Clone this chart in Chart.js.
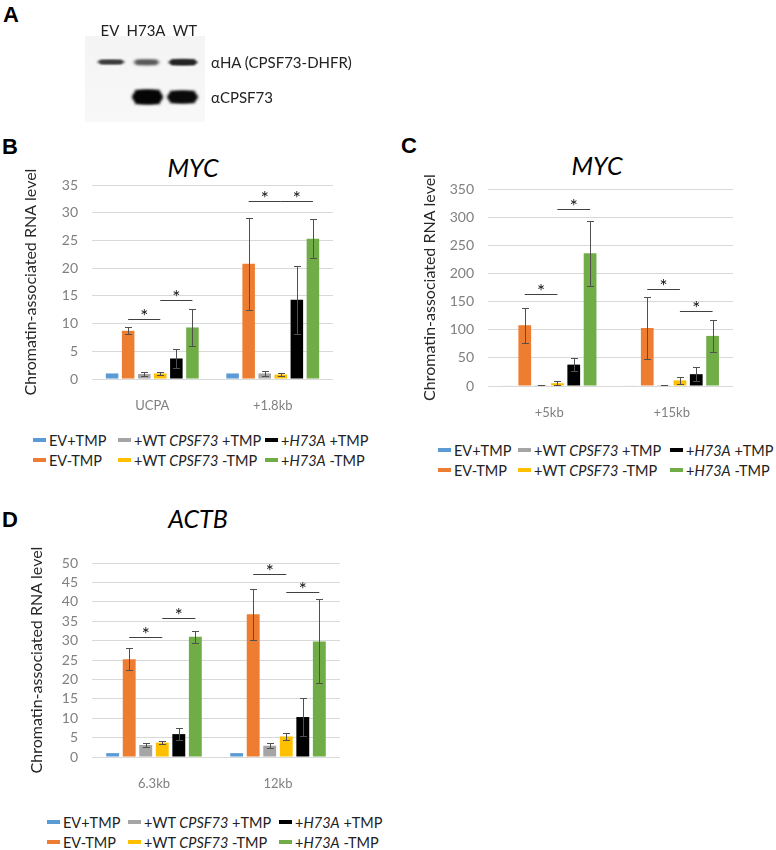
<!DOCTYPE html>
<html>
<head>
<meta charset="utf-8">
<script src="https://cdn.jsdelivr.net/npm/chart.js@4.4.0/dist/chart.umd.min.js"></script>
<style>
  body { margin: 0; width: 776px; height: 850px; position: relative; overflow: hidden; background: #fff; font-family: Lato, sans-serif; }
  canvas { position: absolute; }
  .panel { position: absolute; font-family: "Liberation Sans", Arial, sans-serif; font-weight: bold; font-size: 22px; line-height: 1; color: #000; }
  .title { position: absolute; font-style: italic; font-size: 25px; color: #000; transform: translate(-50%, -50%); white-space: nowrap; }
  .txt { position: absolute; font-size: 15px; color: #222; white-space: nowrap; transform: translateY(-50%); }
  .lane { position: absolute; font-size: 15px; color: #222; transform: translate(-50%, -50%); }
  .legend { position: absolute; display: grid; grid-auto-flow: column; grid-template-rows: 20px 20px; font-size: 14.5px; color: #222; white-space: nowrap; }
  .legend .item { display: flex; align-items: center; }
  .legend .name { white-space: pre; }
  .legend .mark { display: inline-block; width: 13px; height: 4px; margin-right: 3px; }
</style>
</head>
<body>

<div class="panel" style="left:3px;top:4px">A</div>
<div class="panel" style="left:2px;top:136px">B</div>
<div class="panel" style="left:401px;top:135px">C</div>
<div class="panel" style="left:2px;top:509px">D</div>

<canvas id="blot" width="120" height="86" style="left:85px;top:36px"></canvas>
<div class="lane" style="left:110px;top:30px">EV</div>
<div class="lane" style="left:146px;top:30px">H73A</div>
<div class="lane" style="left:185px;top:30px">WT</div>
<div class="txt" style="left:211px;top:62px">αHA (CPSF73-DHFR)</div>
<div class="txt" style="left:211px;top:97px">αCPSF73</div>

<div class="title" style="left:193px;top:167px">MYC</div>
<div class="title" style="left:597px;top:165px">MYC</div>
<div class="title" style="left:198px;top:518px">ACTB</div>

<canvas id="chartB"></canvas>
<canvas id="chartC"></canvas>
<canvas id="chartD"></canvas>

<div class="legend" id="legendB" style="left:33px;top:430px;grid-template-columns:85px 147px auto"></div>
<div class="legend" id="legendC" style="left:438px;top:440px;grid-template-columns:80px 152px auto"></div>
<div class="legend" id="legendD" style="left:47px;top:812px;grid-template-columns:81px 151px auto"></div>

<script>
const seriesNames = ['EV+TMP', 'EV-TMP', '+WT CPSF73 +TMP', '+WT CPSF73 -TMP', '+H73A +TMP', '+H73A -TMP']
const seriesColors = ['#5B9BD5', '#ED7D31', '#A5A5A5', '#FFC000', '#000000', '#70AD47']
const yTitle = 'Chromatin-associated RNA level'

// B: MYC near the gene end
const mycNearLabels = ['UCPA', '+1.8kb']
const mycNearMeans = [[1, 1], [8.7, 20.8], [0.9, 1.0], [1.0, 0.8], [3.7, 14.3], [9.3, 25.3]]
const mycNearErrors = [[0, 0], [0.6, 8.3], [0.3, 0.4], [0.3, 0.3], [1.8, 6.1], [3.3, 3.5]]
// [category, from series, to series, height]
const mycNearStars = [[0, 1, 3, 10.9], [0, 3, 5, 14.3], [1, 1, 3, 32.1], [1, 3, 5, 32.1]]

// C: MYC further downstream
const mycFarLabels = ['+5kb', '+15kb']
const mycFarMeans = [[1, 1], [108, 103], [1.5, 1.5], [5, 10], [38, 21], [236, 89]]
const mycFarErrors = [[0, 0], [31, 55], [0.5, 0.5], [4, 6.5], [12, 12.5], [58, 28]]
const mycFarStars = [[0, 1, 3, 163], [0, 3, 5, 315], [1, 1, 3, 172], [1, 3, 5, 134]]

// D: ACTB
const actbLabels = ['6.3kb', '12kb']
const actbMeans = [[1, 1], [25.2, 36.8], [3.1, 2.9], [3.7, 5.3], [5.9, 10.3], [31, 29.8]]
const actbErrors = [[0, 0], [2.9, 6.6], [0.5, 0.7], [0.3, 0.8], [1.6, 4.9], [1.5, 10.8]]
const actbStars = [[0, 1, 3, 31], [0, 3, 5, 35.9], [1, 1, 3, 47.1], [1, 3, 5, 42.6]]

Chart.defaults.font.family = 'Lato'

const errorBars = {
  id: 'errorBars',
  afterDatasetsDraw(chart) {
    const ctx = chart.ctx
    const y = chart.scales.y
    ctx.save()
    ctx.strokeStyle = '#505050'
    ctx.lineWidth = 1
    chart.data.datasets.forEach((ds, i) => {
      chart.getDatasetMeta(i).data.forEach((bar, j) => {
        const e = ds.errors[j]
        if (!e) return
        const x = Math.round(bar.x) + 0.5
        const top = Math.round(y.getPixelForValue(ds.data[j] + e)) + 0.5
        const bot = Math.round(y.getPixelForValue(Math.max(ds.data[j] - e, 0))) + 0.5
        ctx.beginPath()
        ctx.moveTo(x, top); ctx.lineTo(x, bot)
        ctx.moveTo(x - 3.5, top); ctx.lineTo(x + 3.5, top)
        ctx.moveTo(x - 3.5, bot); ctx.lineTo(x + 3.5, bot)
        ctx.stroke()
      })
    })
    ctx.restore()
  }
}

const sigMarks = {
  id: 'sigMarks',
  afterDatasetsDraw(chart, args, opts) {
    const ctx = chart.ctx
    const y = chart.scales.y
    ctx.save()
    ctx.strokeStyle = '#404040'
    ctx.fillStyle = '#111'
    ctx.lineWidth = 1
    ctx.font = '19px Lato'
    ctx.textAlign = 'center'
    ctx.textBaseline = 'alphabetic'
    opts.marks.forEach(([cat, from, to, h]) => {
      const x1 = chart.getDatasetMeta(from).data[cat].x
      const x2 = chart.getDatasetMeta(to).data[cat].x
      const py = Math.round(y.getPixelForValue(h)) + 0.5
      ctx.beginPath()
      ctx.moveTo(x1, py); ctx.lineTo(x2, py)
      ctx.stroke()
      ctx.fillText('*', (x1 + x2) / 2, py + 3)
    })
    ctx.restore()
  }
}

function makeChart(id, labels, means, errors, stars, yMax, yStep, L) {
  const canvas = document.getElementById(id)
  // chart area starts 23px below the canvas top (tick label half height + tick padding)
  const top = L.chartTop - 23
  canvas.width = L.w
  canvas.height = L.chartBottom + 36 - top
  canvas.style.left = L.left + 'px'
  canvas.style.top = top + 'px'
  return new Chart(canvas, {
    type: 'bar',
    data: {
      labels,
      datasets: seriesNames.map((name, i) => ({
        label: name,
        data: means[i],
        errors: errors[i],
        backgroundColor: seriesColors[i],
        barPercentage: 0.78,
        categoryPercentage: 0.8
      }))
    },
    options: {
      responsive: false,
      animation: false,
      layout: { padding: { left: 0, right: L.padRight, top: 23, bottom: 0 } },
      plugins: {
        legend: { display: false },
        tooltip: { enabled: false },
        sigMarks: { marks: stars }
      },
      scales: {
        x: {
          grid: { display: false },
          border: { display: false },
          ticks: { color: '#808080', font: { size: 13 }, padding: 11 },
          afterFit: s => { s.height = 36 }
        },
        y: {
          min: 0,
          max: yMax,
          ticks: { stepSize: yStep, autoSkip: false, color: '#808080', font: { size: 14 }, padding: 14 },
          grid: { color: '#d9d9d9', drawTicks: false },
          border: { display: false },
          title: { display: true, text: yTitle, color: '#262626', font: { size: 16 }, padding: { top: L.titlePad } },
          afterFit: s => { s.width = L.yWidth }
        }
      }
    },
    plugins: [errorBars, sigMarks]
  })
}

makeChart('chartB', mycNearLabels, mycNearMeans, mycNearErrors, mycNearStars, 35, 5,
  { left: 0, w: 380, chartTop: 185, chartBottom: 379, padRight: 47, yWidth: 92, titlePad: 21 })
makeChart('chartC', mycFarLabels, mycFarMeans, mycFarErrors, mycFarStars, 350, 50,
  { left: 390, w: 386, chartTop: 189, chartBottom: 386, padRight: 43, yWidth: 98, titlePad: 30 })
makeChart('chartD', actbLabels, actbMeans, actbErrors, actbStars, 50, 5,
  { left: 0, w: 380, chartTop: 563, chartBottom: 757, padRight: 40, yWidth: 92, titlePad: 27 })

function buildLegend(id) {
  const box = document.getElementById(id)
  seriesNames.forEach((name, i) => {
    const item = document.createElement('div')
    item.className = 'item'
    item.innerHTML = `<span class="mark" style="background:${seriesColors[i]}"></span>` +
      `<span class="name">${name.replace(/(CPSF73|H73A)/, '<i>$1</i>')}</span>`
    box.appendChild(item)
  })
}
buildLegend('legendB')
buildLegend('legendC')
buildLegend('legendD')

// western blot, panel A
const blot = document.getElementById('blot').getContext('2d')
const bg = blot.createLinearGradient(0, 0, 0, 86)
bg.addColorStop(0, '#f4f4f4')
bg.addColorStop(1, '#f8f8f8')
blot.fillStyle = bg
blot.fillRect(0, 0, 120, 86)

function band(x, y, w, h, color, blur) {
  blot.save()
  blot.filter = `blur(${blur}px)`
  blot.fillStyle = color
  blot.beginPath()
  blot.ellipse(x + w / 2, y + h / 2, w / 2, h / 2, 0, 0, Math.PI * 2)
  blot.fill()
  blot.fillRect(x + 3, y, w - 6, h)
  blot.restore()
}
band(12, 24, 28, 4, '#3a3a3a', 1.3)
band(48, 24, 27, 4.5, '#555', 1.5)
band(83, 23.5, 30, 5.5, '#222', 1.3)
band(47, 54, 31, 14, '#050505', 1.6)
band(82, 55, 31, 12, '#0a0a0a', 1.6)
</script>
</body>
</html>
